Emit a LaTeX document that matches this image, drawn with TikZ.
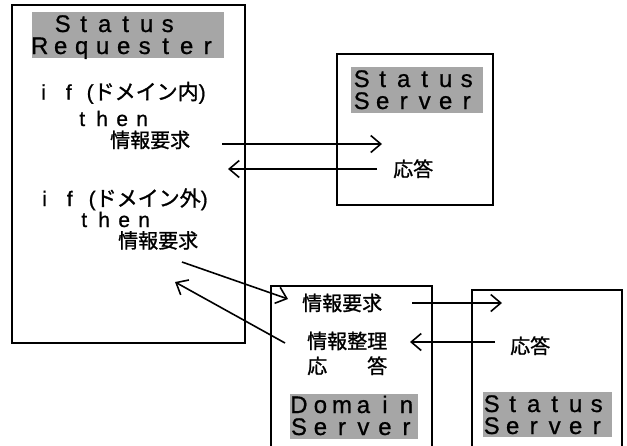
\documentclass[tikz,border=0pt]{standalone}
\usepackage{fontspec}
\setmainfont{Liberation Sans}
\newfontfamily\lat[FakeBold=0.8]{Liberation Sans}
\newfontfamily\jp[FakeBold=1.2]{Noto Sans CJK JP}
\usetikzlibrary{arrows.meta}
\newlength\pitch
\makeatletter
\newcommand\spaced[2]{\setlength\pitch{#1}\spaced@#2\@nil}
\def\spaced@#1{\ifx#1\@nil\else\makebox[\pitch]{#1}\expandafter\spaced@\fi}
\makeatother
\begin{document}
\begin{tikzpicture}[x=1pt,y=-1pt,
  box/.style={draw,line width=2pt,inner sep=0pt,outer sep=0pt,anchor=north west},
  banner/.style={fill=black!35,draw=none,inner sep=0pt,outer sep=0pt,anchor=north west},
  btext/.style={anchor=base west,inner sep=0pt,font=\fontsize{24}{24}\selectfont\lat},
  jtext/.style={anchor=base west,inner sep=0pt,font=\fontsize{20}{20}\selectfont\jp},
  ltext/.style={anchor=base west,inner sep=0pt,font=\fontsize{21}{21}\selectfont\lat},
  msg/.style={line width=1.6pt,-{Straight Barb[length=10pt,width=17pt,line width=1.6pt]}}]
\useasboundingbox (0,0) rectangle (627,445);
% boxes
\node[box,minimum width=233pt,minimum height=338pt] (req) at (12,5) {};
\node[box,minimum width=156pt,minimum height=151pt] (ss1) at (337,54) {};
\node[box,minimum width=161pt,minimum height=170pt] (dom) at (271,286) {};
\node[box,minimum width=150pt,minimum height=166pt] (ss2) at (472,290) {};
% banners
\node[banner,minimum width=192pt,minimum height=46pt] (reqban) at (32,12) {};
\node[banner,minimum width=132pt,minimum height=46pt] (ss1ban) at (351,67) {};
\node[banner,minimum width=128pt,minimum height=45pt] (domban) at (290,394) {};
\node[banner,minimum width=129pt,minimum height=45pt] (ss2ban) at (483,392) {};
% banner texts
\node[btext] (reqt1) at (52,32) {\spaced{21pt}{Status}};
\node[btext] (reqt2) at (29,54) {\spaced{21pt}{Requester}};
\node[btext] (ss1t1) at (351,87) {\spaced{21pt}{Status}};
\node[btext] (ss1t2) at (351,109) {\spaced{21pt}{Server}};
\node[btext] (domt1) at (288,413) {\spaced{21.5pt}{Domain}};
\node[btext] (domt2) at (288,435) {\spaced{21.5pt}{Server}};
\node[btext] (ss2t1) at (481,412) {\spaced{21pt}{Status}};
\node[btext] (ss2t2) at (481,434) {\spaced{21pt}{Server}};
% requester texts
\node[ltext] (if1) at (41,99.5) {i\hspace{20pt}f\hspace{15pt}({\jp ドメイン内})};
\node[ltext] (then1) at (72,126) {\spaced{20pt}{then}};
\node[jtext] (rq1) at (110,147.5) {情報要求};
\node[ltext] (if2) at (42,206) {i\hspace{20pt}f\hspace{16pt}({\jp ドメイン外})};
\node[ltext] (then2) at (74,227) {\spaced{20pt}{then}};
\node[jtext] (rq2) at (118,248) {情報要求};
% server texts
\node[jtext] (ans1) at (393,176.5) {応答};
\node[jtext] (drq) at (302,310.5) {情報要求};
\node[jtext] (dorg) at (307,348.5) {情報整理};
\node[jtext] (dans) at (307,373.5) {応\hspace{2em}答};
\node[jtext] (ans2) at (510,353.5) {応答};
% connector ends
\coordinate (a1s) at (222,144); \coordinate (a1e) at (382,144);
\coordinate (a2s) at (377,169); \coordinate (a2e) at (228,169);
\coordinate (a3s) at (182,262); \coordinate (a3e) at (288,299);
\coordinate (a4s) at (285,343); \coordinate (a4e) at (175,282);
\coordinate (a5s) at (412,303); \coordinate (a5e) at (502,303);
\coordinate (a6s) at (495,342); \coordinate (a6e) at (410,342);
\draw[msg] (a1s) -- (a1e);
\draw[msg] (a2s) -- (a2e);
\draw[msg] (a3s) -- (a3e);
\draw[msg] (a4s) -- (a4e);
\draw[msg] (a5s) -- (a5e);
\draw[msg] (a6s) -- (a6e);
\end{tikzpicture}
\end{document}
